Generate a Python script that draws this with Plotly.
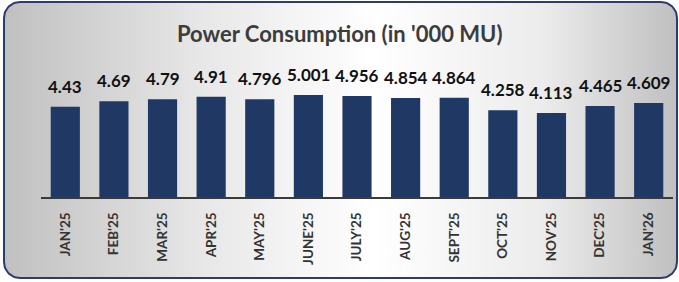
import numpy as np
import plotly.graph_objects as go

# ---- data ----
months = ["JAN'25", "FEB'25", "MAR'25", "APR'25", "MAY'25", "JUNE'25", "JULY'25",
          "AUG'25", "SEPT'25", "OCT'25", "NOV'25", "DEC'25", "JAN'26"]
consumption = [4.43, 4.69, 4.79, 4.91, 4.796, 5.001, 4.956, 4.854, 4.864,
               4.258, 4.113, 4.465, 4.609]
value_labels = ["4.43", "4.69", "4.79", "4.91", "4.796", "5.001", "4.956",
                "4.854", "4.864", "4.258", "4.113", "4.465", "4.609"]
title_text = "Power Consumption (in '000 MU)"

W, H = 679, 282
FONT = "Lato"
NAVY = "#1f3864"


def rounded_rect(x0, y0, x1, y1, r, n=16):
    xs, ys = [], []
    corners = [(x1 - r, y0 + r, -90, 0), (x1 - r, y1 - r, 0, 90),
               (x0 + r, y1 - r, 90, 180), (x0 + r, y0 + r, 180, 270)]
    for cx, cy, a0, a1 in corners:
        for a in np.linspace(np.radians(a0), np.radians(a1), n):
            xs.append(cx + r * np.cos(a))
            ys.append(cy + r * np.sin(a))
    xs.append(xs[0])
    ys.append(ys[0])
    return xs, ys


fx, fy = rounded_rect(4, 2, 677, 278, 16)

fig = go.Figure()

# background frame with gradient (pixel-coordinate helper axes)
fig.add_trace(go.Scatter(
    x=fx, y=fy, mode="lines", fill="toself",
    line=dict(color="#2e3b73", width=2),
    fillgradient=dict(type="horizontal",
                      colorscale=[[0, "#c0c0c0"], [0.3, "#e8e8e8"], [0.55, "#ffffff"],
                                  [0.8, "#ececec"], [1, "#c0c0c0"]]),
    hoverinfo="skip", showlegend=False, xaxis="x", yaxis="y"))

# bars
fig.add_trace(go.Bar(
    x=months, y=consumption, marker=dict(color=NAVY, line=dict(width=0)),
    width=0.6, showlegend=False, xaxis="x2", yaxis="y2"))

annotations = []
for m, v, t in zip(months, consumption, value_labels):
    annotations.append(dict(
        x=m, y=v, xref="x2", yref="y2", text=t, showarrow=False,
        yanchor="bottom", yshift=8,
        font=dict(family=FONT, size=17, color="#111111", weight="bold")))

annotations.append(dict(
    x=0.5, y=(H - 33) / H, xref="paper", yref="paper", text=title_text,
    showarrow=False, xanchor="center", yanchor="middle",
    font=dict(family=FONT, size=22, color="#3c3c3c", weight="bold")))

fig.update_layout(
    width=W, height=H,
    margin=dict(l=0, r=0, t=0, b=0),
    paper_bgcolor="white", plot_bgcolor="rgba(0,0,0,0)",
    annotations=annotations,
    xaxis=dict(range=[0, W], domain=[0, 1], visible=False, fixedrange=True),
    yaxis=dict(range=[H, 0], domain=[0, 1], visible=False, fixedrange=True),
    xaxis2=dict(domain=[41 / W, 673 / W], anchor="y2", type="category",
                range=[-0.5, 12.5], showline=True, linecolor="#3a3a3a", linewidth=2,
                showgrid=False, zeroline=False, ticks="", tickangle=-90,
                ticklabelstandoff=8,
                tickfont=dict(family=FONT, size=13.5, color="#333333", weight="bold")),
    yaxis2=dict(domain=[(H - 197) / H, (H - 74.6) / H], anchor="x2", range=[0, 6],
                visible=False, showgrid=False, zeroline=False),
    bargap=0.4,
)

fig.write_html("out.html", config={"displayModeBar": False},
               post_script="document.body.style.margin='0';document.body.style.overflow='hidden';")
